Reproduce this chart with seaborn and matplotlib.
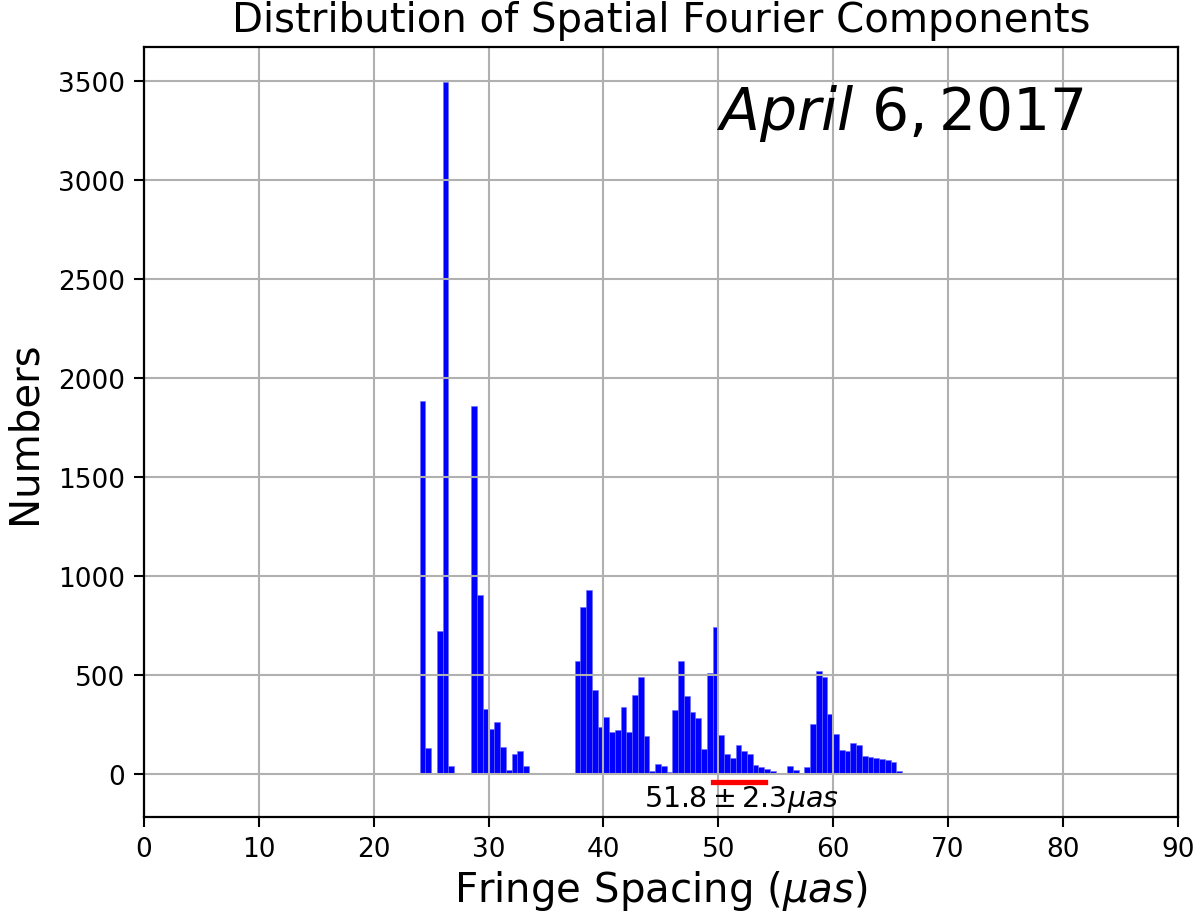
import numpy as np
import pandas as pd
import seaborn as sns
import matplotlib.pyplot as plt

# left edges of the 0.5-wide bins that have counts, and the counts
bin_left = [24.0, 24.5, 25.5, 26.0, 26.5,
            28.5, 29.0, 29.5, 30.0, 30.5, 31.0, 31.5, 32.0, 32.5, 33.0,
            37.5, 38.0, 38.5, 39.0, 39.5, 40.0, 40.5, 41.0, 41.5, 42.0,
            42.5, 43.0, 43.5, 44.0, 44.5, 45.0, 45.5, 46.0, 46.5, 47.0,
            47.5, 48.0, 48.5, 49.0, 49.5, 50.0, 50.5, 51.0, 51.5, 52.0,
            52.5, 53.0, 53.5, 54.0, 54.5, 55.5, 56.0, 56.5, 57.5, 58.0,
            58.5, 59.0, 59.5, 60.0, 60.5, 61.0, 61.5, 62.0, 62.5, 63.0,
            63.5, 64.0, 64.5, 65.0, 65.5]
counts = [1884, 130, 724, 3495, 42,
          1860, 906, 330, 227, 264, 138, 22, 101, 115, 42,
          571, 842, 929, 426, 235, 290, 214, 220, 339, 214,
          400, 488, 194, 14, 51, 39, 8, 324, 571, 395,
          312, 282, 128, 510, 743, 196, 100, 83, 146, 117,
          100, 44, 33, 25, 17, 5, 41, 21, 34, 252,
          520, 490, 303, 203, 123, 116, 156, 146, 91, 88,
          83, 78, 73, 59, 17]

bin_width = 0.5
mean_spacing = 51.8
spacing_err = 2.3

sns.set_style("white")
plt.rcParams['font.family'] = ['DejaVu Sans']
plt.rcParams['mathtext.fontset'] = 'dejavusans'
plt.rcParams['text.color'] = 'black'
plt.rcParams['axes.labelcolor'] = 'black'
plt.rcParams['xtick.color'] = 'black'
plt.rcParams['ytick.color'] = 'black'

df = pd.DataFrame({"spacing": np.array(bin_left) + bin_width / 2,
                   "n": counts})

fig = plt.figure(figsize=(11.96, 9.2), dpi=100)
ax = fig.add_axes([0.1204, 0.1105, 0.8643, 0.8377])

sns.histplot(data=df, x="spacing", weights="n", binwidth=bin_width,
             binrange=(24.0, 66.0), color='blue', alpha=1,
             edgecolor='#6a6aff', linewidth=0.4, ax=ax)

# estimated fringe spacing with its spread
ax.plot([mean_spacing - spacing_err, mean_spacing + spacing_err], [-42, -42],
        color='red', lw=3.8, solid_capstyle='projecting', zorder=5)
ax.text(43.5, -160, r'$51.8 \pm 2.3 \mu as$', fontsize=20.5)
ax.text(49.8, 3258, r'$April\ 6, 2017$', fontsize=42)

ax.set_xlim(0, 90)
ax.set_ylim(-219, 3673)
ax.set_xticks(range(0, 91, 10))
ax.set_yticks(range(0, 3501, 500))
ax.set_axisbelow('line')
ax.grid(True, color='#b0b0b0', lw=1.5)

ax.set_title('Distribution of Spatial Fourier Components', fontsize=29, pad=11)
ax.set_xlabel(r'Fringe Spacing ($\mu as$)', fontsize=29, labelpad=4)
ax.set_ylabel('Numbers', fontsize=29, labelpad=10)
ax.tick_params(labelsize=19, direction='out', length=7.5, width=1.5,
               bottom=True, left=True, pad=6)
for s in ax.spines.values():
    s.set_linewidth(1.6)
    s.set_color('black')

fig.savefig('out.png', dpi=100)
